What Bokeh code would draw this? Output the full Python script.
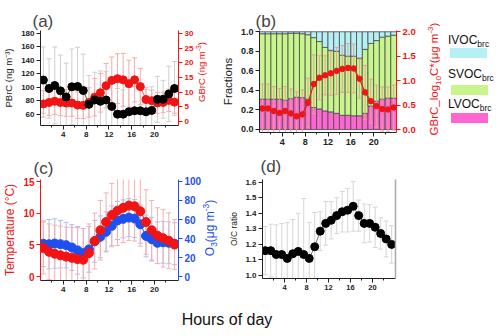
from bokeh.plotting import figure
from bokeh.models import Range1d, LinearAxis, FixedTicker, ColumnDataSource, Div, PrintfTickFormatter
from bokeh.layouts import column, row
from bokeh.embed import file_html
from bokeh.resources import INLINE

# ---------------- data ----------------
hours = [0.5, 1.5, 2.5, 3.5, 4.5, 5.5, 6.5, 7.5, 8.5, 9.5, 10.5, 11.5,
         12.5, 13.5, 14.5, 15.5, 16.5, 17.5, 18.5, 19.5, 20.5, 21.5, 22.5, 23.5]
x_ticks = [4, 8, 12, 16, 20]
x_minor = [2, 6, 10, 14, 18, 22]

# (a)
pbrc = [111, 98.5, 103, 95, 86, 101, 101.5, 95.5, 75, 81.5, 79.5, 81.5,
        72, 60.5, 60.5, 64, 65.5, 65.5, 64, 66, 82.5, 82.5, 90.5, 98.5]
pbrc_sd = [49, 44, 57, 53, 50, 56, 58, 54, 43, 41, 45, 42,
           41, 38, 36, 36, 36, 36, 36, 35, 34, 28, 41, 40]
gbrc = [6.0, 6.5, 6.9, 6.5, 6.3, 6.3, 5.6, 5.5, 6.5, 8.3, 9.8, 12.2,
        14.0, 14.6, 14.2, 12.9, 14.2, 11.9, 7.5, 7.1, 6.3, 6.5, 7.2, 6.6]
gbrc_sd = [4.5, 4.5, 4.5, 4.5, 4.5, 4.5, 4.5, 4.5, 5, 6.4, 6.6, 7.6,
           8, 8.5, 9, 8, 7.5, 6.2, 3.5, 3.6, 3.5, 3.5, 3.8, 3.8]

# (b)
lvoc = [0.31, 0.31, 0.31, 0.31, 0.30, 0.315, 0.33, 0.325, 0.31, 0.225, 0.21, 0.19,
        0.18, 0.165, 0.145, 0.145, 0.14, 0.14, 0.165, 0.24, 0.29, 0.31, 0.32, 0.32]
svoc = [0.67, 0.67, 0.67, 0.67, 0.68, 0.67, 0.655, 0.655, 0.66, 0.715, 0.69, 0.65,
        0.63, 0.635, 0.615, 0.605, 0.61, 0.59, 0.655, 0.64, 0.62, 0.635, 0.635, 0.645]
ivoc = [0.02, 0.02, 0.02, 0.02, 0.02, 0.015, 0.015, 0.02, 0.03, 0.06, 0.10, 0.16,
        0.19, 0.20, 0.24, 0.25, 0.25, 0.27, 0.18, 0.12, 0.09, 0.055, 0.045, 0.035]
logc = [0.43, 0.43, 0.38, 0.34, 0.38, 0.33, 0.27, 0.31, 0.55, 0.93, 1.06, 1.11,
        1.15, 1.20, 1.24, 1.26, 1.25, 1.04, 0.76, 0.58, 0.48, 0.42, 0.41, 0.45]
logc_sd = [0.5, 0.5, 0.5, 0.5, 0.5, 0.5, 0.5, 0.5, 0.5, 0.6, 0.45, 0.4,
           0.45, 0.48, 0.48, 0.5, 0.5, 0.4, 0.55, 0.45, 0.43, 0.45, 0.46, 0.46]

# (c)
temp = [4.5, 3.9, 3.6, 3.35, 3.15, 2.95, 2.75, 2.65, 3.7, 5.6, 7.3, 8.6,
        9.7, 10.4, 10.85, 11.2, 11.1, 10.3, 8.6, 7.3, 6.45, 6.05, 5.65, 5.05]
temp_sd = [4.1, 4.4, 4.5, 4.6, 4.65, 4.8, 4.95, 4.95, 4.6, 4.4, 4.7, 4.6,
           5.0, 5.5, 5.5, 5.5, 5.5, 5.5, 5.1, 4.7, 4.4, 4.55, 4.4, 3.95]
o3 = [34.5, 34, 34.7, 34, 33, 30.5, 27.5, 24.5, 28.5, 37, 41.8, 47,
      53.3, 59, 60.7, 62, 61, 55, 42.7, 39.3, 35.5, 36, 35.5, 34.5]
o3_sd = [24, 26, 26, 25, 24, 24, 25, 26, 24, 22, 22, 21,
         21, 20, 20, 20, 20, 20, 22, 23, 22, 22, 22, 22]

# (d)
oc = [1.16, 1.16, 1.135, 1.135, 1.11, 1.14, 1.155, 1.135, 1.11, 1.185, 1.285, 1.335,
      1.355, 1.385, 1.41, 1.42, 1.445, 1.385, 1.335, 1.335, 1.31, 1.27, 1.235, 1.2]
oc_sd = [0.155, 0.17, 0.19, 0.2, 0.23, 0.22, 0.245, 0.36, 0.23, 0.22, 0.125, 0.14,
         0.12, 0.115, 0.13, 0.14, 0.16, 0.10, 0.125, 0.12, 0.13, 0.10, 0.115, 0.12]

# legend entries for (b)
leg_names = ["IVOC", "SVOC", "LVOC"]
leg_colors = ["#b4f0f5", "#c8f58c", "#ff66d2"]

FONT = "Liberation Sans"
RED = "#f01414"
BLUE = "#1e50f0"


def style_axis(ax, color, size, ticks, minor=None, label_size="10px", label_standoff=4, fmt=None):
    ax.ticker = FixedTicker(ticks=ticks, minor_ticks=minor or [])
    if fmt:
        ax.formatter = PrintfTickFormatter(format=fmt)
    ax.axis_line_color = color
    ax.major_tick_line_color = color
    ax.minor_tick_line_color = color
    ax.major_label_text_color = color
    ax.axis_label_text_color = color
    ax.major_label_text_font = FONT
    ax.major_label_text_font_style = "bold"
    ax.major_label_text_font_size = size
    ax.axis_label_text_font = FONT
    ax.axis_label_text_font_style = "normal"
    ax.axis_label_text_font_size = label_size
    ax.axis_label_standoff = label_standoff
    ax.major_tick_out = 4
    ax.major_tick_in = 0
    ax.minor_tick_out = 2
    ax.minor_tick_in = 0
    ax.major_label_standoff = 2


def make_fig(xr, yr, fw, fh, bl, br, bt, bb, title, toff, tstand=0):
    p = figure(frame_width=fw, frame_height=fh, x_range=xr, y_range=yr,
               min_border_left=bl, min_border_right=br, min_border_top=bt,
               min_border_bottom=bb, output_backend="svg", toolbar_location=None,
               title=title)
    p.outline_line_color = None
    p.grid.visible = False
    p.title.text_font = FONT
    p.title.text_font_size = "17px"
    p.title.text_font_style = "normal"
    p.title.offset = toff
    p.title.standoff = tstand
    return p


def errbars(p, x, y, sd, color, yname="default", cap=5):
    lo = [a - b for a, b in zip(y, sd)]
    hi = [a + b for a, b in zip(y, sd)]
    p.segment(x0=x, y0=lo, x1=x, y1=hi, line_color=color, line_width=1, y_range_name=yname)
    p.scatter(x=x, y=hi, marker="dash", size=cap, line_color=color, line_width=1, y_range_name=yname)
    p.scatter(x=x, y=lo, marker="dash", size=cap, line_color=color, line_width=1, y_range_name=yname)


def vlabel(html, w, h, cx, cy, color, size, span=140):
    """Rotated (bottom-to-top) text block, centred at (cx, cy) inside a w x h box."""
    top = cy - span / 2
    inner = (
        f'<div style="position:relative;width:{w}px;height:{h}px;overflow:visible;">'
        f'<div style="position:absolute;left:0;top:0;width:{span}px;height:{2 * cx}px;'
        f'line-height:{2 * cx}px;text-align:center;white-space:nowrap;'
        f'transform-origin:0 0;transform:translate(0px,{top + span}px) rotate(-90deg);'
        f'color:{color};font-size:{size};font-family:\'{FONT}\';">{html}</div></div>'
    )
    return Div(text=inner, width=w, height=h, margin=(0, 0, 0, 0), styles={"overflow": "visible"})


SUP = '<sup style="font-size:70%;line-height:0;">'
SUB = '<sub style="font-size:70%;line-height:0;">'

# ---------------- (a) ----------------
pa = make_fig(Range1d(0, 24.2), Range1d(43.7, 184.4), 138, 95, 40, 19, 30, 25, "(a)", -8)
pa.extra_y_ranges = {"r": Range1d(-1.36, 31.02)}
style_axis(pa.xaxis[0], "#222222", "8px", x_ticks, x_minor)
style_axis(pa.yaxis[0], "#222222", "8px", [60, 80, 100, 120, 140, 160, 180], label_size="9.5px", label_standoff=4)
pa.yaxis[0].axis_label = "PBrC (ng m⁻³)"
ra = LinearAxis(y_range_name="r")
style_axis(ra, RED, "8px", [0, 5, 10, 15, 20, 25, 30])
pa.add_layout(ra, "right")
errbars(pa, hours, pbrc, pbrc_sd, "#cfcfcf")
errbars(pa, hours, gbrc, gbrc_sd, "#f5aaaa", "r")
pa.line(hours, gbrc, line_color="#f06060", line_width=1, y_range_name="r")
pa.scatter(hours, gbrc, size=8, fill_color=RED, line_color=RED, y_range_name="r")
pa.line(hours, pbrc, line_color="#555555", line_width=1)
pa.scatter(hours, pbrc, size=8, fill_color="black", line_color="black")
lab_a = vlabel(f"GBrC (ng m{SUP}-3</sup>)", 14, 150, 5, 72, RED, "9.5px")

# ---------------- (b) ----------------
pb = make_fig(Range1d(0, 24), Range1d(-0.031, 1.013), 137, 102, 48, 22, 29, 19, "(b)", -4)
pb.extra_y_ranges = {"r": Range1d(-0.061, 2.027)}
style_axis(pb.xaxis[0], "#222222", "9px", x_ticks, x_minor)
style_axis(pb.yaxis[0], "#222222", "9px", [0.0, 0.2, 0.4, 0.6, 0.8, 1.0], label_size="11.5px",
           label_standoff=4, fmt="%.1f")
pb.yaxis[0].axis_label = "Fractions"
rb = LinearAxis(y_range_name="r")
style_axis(rb, RED, "9.5px", [0.0, 0.5, 1.0, 1.5, 2.0], fmt="%.1f")
pb.add_layout(rb, "right")
src_b = ColumnDataSource(dict(hour=hours, lvoc=lvoc, svoc=svoc, ivoc=ivoc))
pb.vbar_stack(["lvoc", "svoc", "ivoc"], x="hour", width=1, source=src_b,
              fill_color=[leg_colors[2], leg_colors[1], leg_colors[0]],
              line_color="#4a4a4a", line_width=0.8)
errbars(pb, hours, logc, logc_sd, "#eaa08f", "r", cap=4)
pb.line(hours, logc, line_color=RED, line_width=1.2, y_range_name="r")
pb.scatter(hours, logc, size=5.5, fill_color=RED, line_color=RED, y_range_name="r")
lab_b = vlabel(f"GBrC_log{SUB}10</sub>C*(μg m{SUP}-3</sup>)", 26, 150, 16, 79, RED, "11.5px")

# legend for (b) as HTML
leg_tops = [34, 68, 98]
box_tops = [48, 85, 113]
box_left = [6, 7, 7]
parts = ['<div style="position:relative;width:56px;height:150px;">']
for name, col, tt, bt, bl in zip(leg_names, leg_colors, leg_tops, box_tops, box_left):
    parts.append(f'<div style="position:absolute;left:4px;top:{tt}px;font-size:12px;line-height:12px;'
                 f'font-family:\'{FONT}\';color:#111;white-space:nowrap;">{name}'
                 f'<span style="font-size:8.5px;position:relative;top:3px;">brc</span></div>')
    parts.append(f'<div style="position:absolute;left:{bl}px;top:{bt}px;width:37px;height:10px;'
                 f'background:{col};"></div>')
parts.append('</div>')
leg = Div(text="".join(parts), width=56, height=150, margin=(0, 0, 0, 0))

# ---------------- (c) ----------------
pc = make_fig(Range1d(0, 24.2), Range1d(-0.63, 15.32), 138, 101, 40, 24, 25, 24, "(c)", -7, 4)
pc.extra_y_ranges = {"r": Range1d(-4.2, 102.1)}
style_axis(pc.xaxis[0], "#222222", "8px", x_ticks, x_minor)
style_axis(pc.yaxis[0], RED, "10px", [0, 5, 10, 15], label_size="12px", label_standoff=3)
pc.yaxis[0].axis_label = "Temperature (°C)"
rc = LinearAxis(y_range_name="r")
style_axis(rc, BLUE, "10px", [0, 20, 40, 60, 80, 100])
pc.add_layout(rc, "right")
errbars(pc, hours, o3, o3_sd, "#aebcf2", "r")
errbars(pc, hours, temp, temp_sd, "#f5b0b0")
pc.line(hours, o3, line_color=BLUE, line_width=1, y_range_name="r")
pc.scatter(hours, o3, size=9, fill_color=BLUE, line_color=BLUE, y_range_name="r")
pc.line(hours, temp, line_color=RED, line_width=1)
pc.scatter(hours, temp, size=9, fill_color=RED, line_color=RED)
lab_c = vlabel(f"O{SUB}3</sub>(μg m{SUP}-3</sup>)", 14, 150, 6, 78, BLUE, "12px")

# ---------------- (d) ----------------
pd_ = make_fig(Range1d(0, 24.2), Range1d(0.981, 1.617), 133, 99, 44, 107, 28, 23, "(d)", -2, 8)
style_axis(pd_.xaxis[0], "#222222", "7.5px", x_ticks, x_minor)
style_axis(pd_.yaxis[0], "#222222", "8px", [1.0, 1.1, 1.2, 1.3, 1.4, 1.5, 1.6], label_size="8.5px",
           label_standoff=3, fmt="%.1f")
pd_.yaxis[0].axis_label = "O/C ratio"
rd = LinearAxis(major_tick_line_color=None, minor_tick_line_color=None,
                major_label_text_font_size="0px", axis_line_color="#a8a8a8", axis_line_width=1.5)
rd.ticker = FixedTicker(ticks=[])
pd_.add_layout(rd, "right")
errbars(pd_, hours, oc, oc_sd, "#d6d6d6")
pd_.line(hours, oc, line_color="#777777", line_width=1)
pd_.scatter(hours, oc, size=8, fill_color="black", line_color="black")

# ---------------- common x label ----------------
xlab = Div(text=f'<div style="width:454px;text-align:center;font-size:16px;font-family:\'{FONT}\';'
                f'color:#111;padding-top:8px;">Hours of day</div>', width=454, height=36,
           margin=(0, 0, 0, 0))

layout = column(row(pa, lab_a, pb, lab_b, leg), row(pc, lab_c, pd_), xlab)
open("out.html", "w").write(file_html(layout, INLINE))
